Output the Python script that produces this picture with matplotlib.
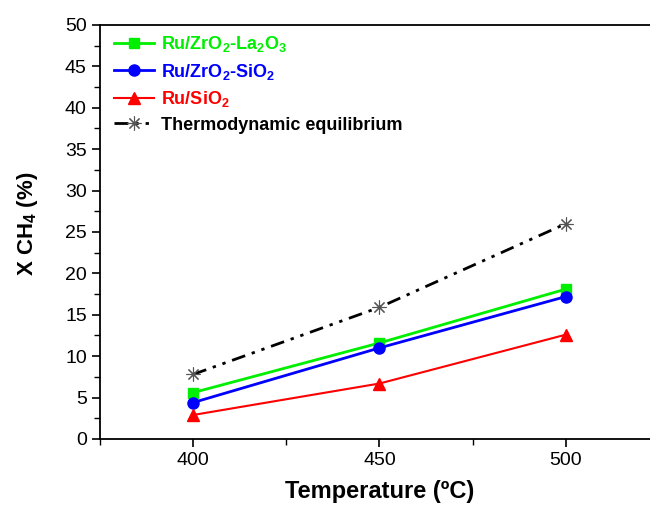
import matplotlib
matplotlib.use("Agg")
import matplotlib.pyplot as plt
from matplotlib.ticker import MultipleLocator

plt.rcParams['font.family'] = ['Liberation Sans', 'DejaVu Sans']
plt.rcParams['mathtext.fontset'] = 'custom'
plt.rcParams['mathtext.rm'] = 'Liberation Sans'
plt.rcParams['mathtext.bf'] = 'Liberation Sans:bold'

# Data
temps = [400, 450, 500]
la2o3 = [5.6, 11.6, 18.1]
sio2_zr = [4.4, 11.0, 17.2]
sio2 = [2.9, 6.7, 12.6]
equil = [7.8, 15.9, 26.0]

labels = [r'Ru/ZrO$_\mathbf{2}$-La$_\mathbf{2}$O$_\mathbf{3}$',
          r'Ru/ZrO$_\mathbf{2}$-SiO$_\mathbf{2}$',
          r'Ru/SiO$_\mathbf{2}$',
          'Thermodynamic equilibrium']
colors = ['#00ee00', '#0000ff', '#ff0000', '#000000']

fig = plt.figure(figsize=(6.5, 5.12), dpi=100)
ax = fig.add_axes([0.1538, 0.1426, 0.86, 0.8086])

ax.plot(temps, la2o3, '-', color=colors[0], lw=2, marker='s', ms=7, label=labels[0])
ax.plot(temps, sio2_zr, '-', color=colors[1], lw=2, marker='o', ms=8, label=labels[1])
ax.plot(temps, sio2, '-', color=colors[2], lw=1.5, marker='^', ms=8, label=labels[2])
ax.plot(temps, equil, color='black', lw=2, linestyle=(0, (5, 2.5, 1.2, 2.5, 1.2, 2.5)),
        marker=(8, 2, 0), ms=10, mec='#555555', mew=0.8, label=labels[3])

ax.set_xlim(375, 525)
ax.set_ylim(0, 50)
ax.xaxis.set_major_locator(MultipleLocator(50))
ax.xaxis.set_minor_locator(MultipleLocator(25))
ax.yaxis.set_major_locator(MultipleLocator(5))
ax.yaxis.set_minor_locator(MultipleLocator(2.5))
ax.tick_params(which='both', direction='out', top=False, right=False, labelsize=14)
ax.tick_params(which='major', length=6, width=1.2)
ax.tick_params(which='minor', length=4, width=1.0)
for s in ax.spines.values():
    s.set_linewidth(1.3)

ax.set_xlabel('Temperature (ºC)', fontsize=17, fontweight='bold', labelpad=8)
ax.set_ylabel(r'X CH$_\mathbf{4}$ (%)', fontsize=16, fontweight='bold')
ax.yaxis.set_label_coords(-0.107, 0.52)

leg = ax.legend(loc='upper left', bbox_to_anchor=(0.009, 1.0), frameon=False,
                handlelength=2.2, handletextpad=0.4, labelspacing=0.42,
                borderaxespad=0.1, prop={'weight': 'bold', 'size': 13})
for txt, c in zip(leg.get_texts(), colors):
    txt.set_color(c)

fig.savefig('out.png', dpi=100)
